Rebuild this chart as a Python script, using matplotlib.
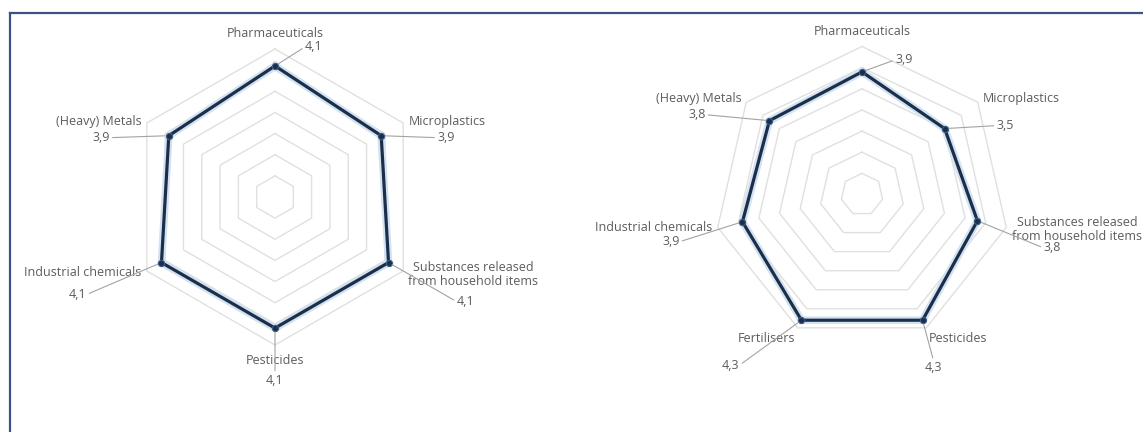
import numpy as np
import matplotlib
matplotlib.use("Agg")
import matplotlib.pyplot as plt
from matplotlib.lines import Line2D

# ---------------- data ----------------
left_categories = ["Pharmaceuticals", "Microplastics",
                   "Substances released\nfrom household items",
                   "Pesticides", "Industrial chemicals", "(Heavy) Metals"]
left_values = [4.1, 3.9, 4.1, 4.1, 4.1, 3.9]

right_categories = ["Pharmaceuticals", "Microplastics",
                    "Substances released\nfrom household items",
                    "Pesticides", "Fertilisers", "Industrial chemicals",
                    "(Heavy) Metals"]
right_values = [3.9, 3.5, 3.8, 4.3, 4.3, 3.9, 3.8]

ring_levels = [1.5, 2.0, 2.5, 3.0, 3.5, 4.0, 4.5]
r_min, r_max = 1.0, 4.5

# label layout (pixel offsets of value labels relative to their points)
left_value_offsets = [(30, 19), (56, -2), (68, -39), (0, -52), (-75, -32), (-59, -2)]
right_value_offsets = [(33, 12), (52, 3), (66, -27), (11, -47), (-62, -45), (-63, -20), (-64, 6)]

# ---------------- style ----------------
W, H, DPI = 1143, 432, 100
LINE_COLOR = "#1b2e4b"
HALO_COLOR = "#d3e2f0"
RING_COLOR = "#e0e0e0"
TEXT_COLOR = "#5c5c5c"
CONN_COLOR = "#a3a3a3"
BORDER_COLOR = "#3b5382"
FONT = ["Open Sans", "DejaVu Sans"]
FS = 9.0

fig = plt.figure(figsize=(W / DPI, H / DPI), dpi=DPI)
fig.patch.set_facecolor("white")


def fmt(v):
    return f"{v:.1f}".replace(".", ",")


def radar(rect, categories, values, value_offsets):
    ax = fig.add_axes(rect, projection="polar")
    ax.set_theta_zero_location("N")
    ax.set_theta_direction(-1)
    ax.set_ylim(r_min, r_max)
    ax.grid(False)
    ax.set_xticks([])
    ax.set_yticks([])
    ax.spines["polar"].set_visible(False)
    ax.patch.set_alpha(0)

    n = len(categories)
    theta = np.arange(n) * 2 * np.pi / n
    theta_c = np.append(theta, theta[0])

    for lvl in ring_levels:
        ax.plot(theta_c, [lvl] * (n + 1), color=RING_COLOR, lw=1.0, zorder=1,
                clip_on=False)

    vals_c = np.append(values, values[0])
    ax.plot(theta_c, vals_c, color=HALO_COLOR, lw=5.5, zorder=2,
            solid_joinstyle="round", clip_on=False)
    ax.plot(theta_c, vals_c, color=LINE_COLOR, lw=2.3, zorder=3,
            solid_joinstyle="round", clip_on=False)
    ax.plot(theta, values, "o", ms=4.5, mfc=LINE_COLOR, mec="#3d5f86",
            mew=0.8, zorder=4, clip_on=False)

    # category labels around the outer ring
    for th, cat in zip(theta, categories):
        s, c = np.sin(th), np.cos(th)
        ox, oy = 6 * s, 15 * c ** 3 - (2 if "\n" in cat else 0)
        ha = "left" if s > 0.05 else ("right" if s < -0.05 else "center")
        ax.annotate(cat, xy=(th, r_max), xytext=(ox, oy),
                    textcoords="offset pixels", ha=ha, va="center",
                    multialignment="center", fontsize=FS, family=FONT,
                    color=TEXT_COLOR, annotation_clip=False, zorder=5,
                    linespacing=1.1)

    # value labels with connectors
    for th, v, (dx, dy) in zip(theta, values, value_offsets):
        if dx > 15:
            ha, rel = "left", (0.0, 0.5)
        elif dx < -15:
            ha, rel = "right", (1.0, 0.5)
        else:
            ha, rel = "center", (0.5, 1.0)
        ax.annotate(fmt(v), xy=(th, v), xytext=(dx, dy),
                    textcoords="offset pixels", ha=ha, va="center",
                    fontsize=FS, family=FONT, color=TEXT_COLOR,
                    annotation_clip=False, zorder=5,
                    arrowprops=dict(arrowstyle="-", color=CONN_COLOR, lw=0.8,
                                    shrinkA=0, shrinkB=3, relpos=rel))
    return ax


R = 148
def rect_for(cx, cy):
    return [(cx - R) / W, (H - cy - R) / H, 2 * R / W, 2 * R / H]

radar(rect_for(275, 197), left_categories, left_values, left_value_offsets)
radar(rect_for(862, 194.5), right_categories, right_values, right_value_offsets)

# frame lines (top and left)
fig.add_artist(Line2D([10 / W, 1.0], [1 - 13 / H, 1 - 13 / H],
                      transform=fig.transFigure, color=BORDER_COLOR, lw=1.6))
fig.add_artist(Line2D([10 / W, 10 / W], [0, 1 - 13 / H],
                      transform=fig.transFigure, color=BORDER_COLOR, lw=1.6))

fig.savefig("out.png", dpi=DPI)
